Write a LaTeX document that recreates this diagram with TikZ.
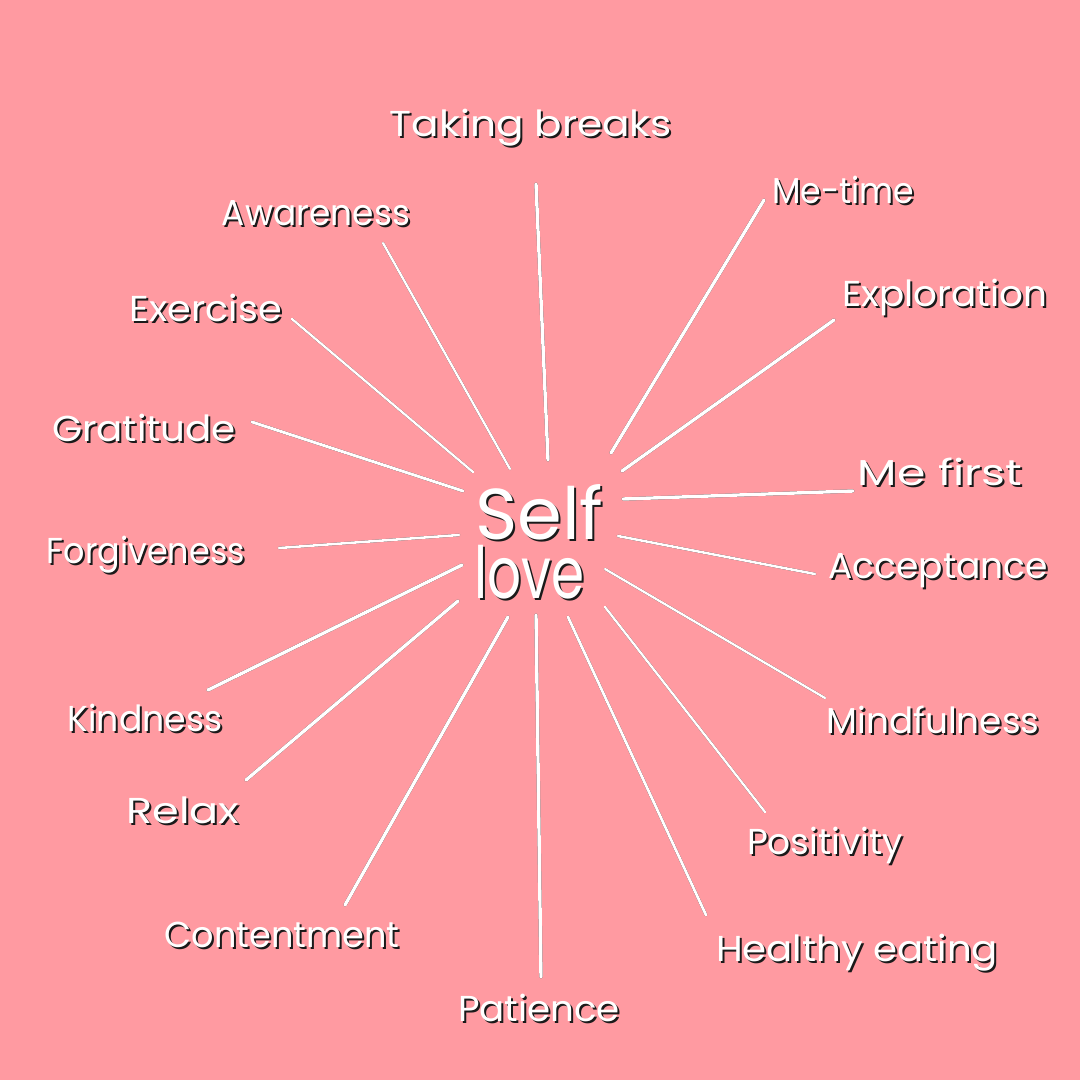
\documentclass[tikz,border=0pt]{standalone}
\usepackage{fontspec}
\setmainfont{Poppins}
\definecolor{bgpink}{HTML}{FF9AA1}
\definecolor{cshade}{HTML}{1A1A1A}
\newcommand{\fitw}[2]{\resizebox{#1pt}{\height}{#2}}
\tikzset{
  word/.style={font=\fontsize{36}{36}\selectfont, text=white, inner sep=0pt},
  shade/.style={text=cshade, xshift=2pt, yshift=-2pt},
  ray/.style={draw=white, line width=#1, line cap=round},
  rayshade/.style={draw=cshade, line width=#1, line cap=round, xshift=1.6pt, yshift=-1.6pt},
}

\begin{document}
\begin{tikzpicture}[x=1pt, y=-1pt,
  big/.style={word, font=\fontsize{72}{72}\selectfont, anchor=base west, text height=50pt, text depth=1pt}]
  \fill[bgpink] (0,0) rectangle (1080,1080);
  \useasboundingbox (0,0) rectangle (1080,1080);
  % centre
  \node[big, shade] at (475,539) {Self};
  \node[big] (self) at (475,539) {Self};
  \node[big, shade] at (474,598) {\fitw{110}{love}};
  \node[big] (love) at (474,598) {\fitw{110}{love}};
  % words and rays
  \foreach \t/\x/\y/\wid/\ax/\ay/\bx/\by/\w [count=\i] in {
    Taking breaks/531/128/282/536/184/548/460/3.4,
    Me-time/843/190/142/764/200/611/453/3.4,
    Exploration/945/297/205/834/320/622/471/3.4,
    Me first/940/472/164/853/491/623/499/3.4,
    Acceptance/938/571/220/815/574/618/536/2.6,
    Mindfulness/933/720/213/825/698/605/569/2.4,
    Positivity/825/845/156/765/812/605/607/2.4,
    Healthy eating/857/953/282/706/915/568/617/2.8,
    Patience/539/1008/162/541/977/536/615/3.4,
    Contentment/282/935/235/345/905/508/617/3.4,
    Relax/183/810/113/246/780/458/601/3.4,
    Kindness/145/718/155/208/690/462/565/3.4,
    Forgiveness/146/555/198/279/548/459/535/2.6,
    Gratitude/144/428/184/252/422/463/491/3,
    Exercise/206/308/152/292/319/473/472/2.4,
    Awareness/316/213/188/383/243/510/469/2.4} {
    \node[word, shade] at (\x,\y) {\fitw{\wid}{\t}};
    \node[word] (l\i) at (\x,\y) {\fitw{\wid}{\t}};
    \coordinate (o\i) at (\ax,\ay);
    \coordinate (c\i) at (\bx,\by);
    \draw[rayshade=\w pt] (o\i) -- (c\i);
    \draw[ray=\w pt] (o\i) -- (c\i);
  }
\end{tikzpicture}
\end{document}
